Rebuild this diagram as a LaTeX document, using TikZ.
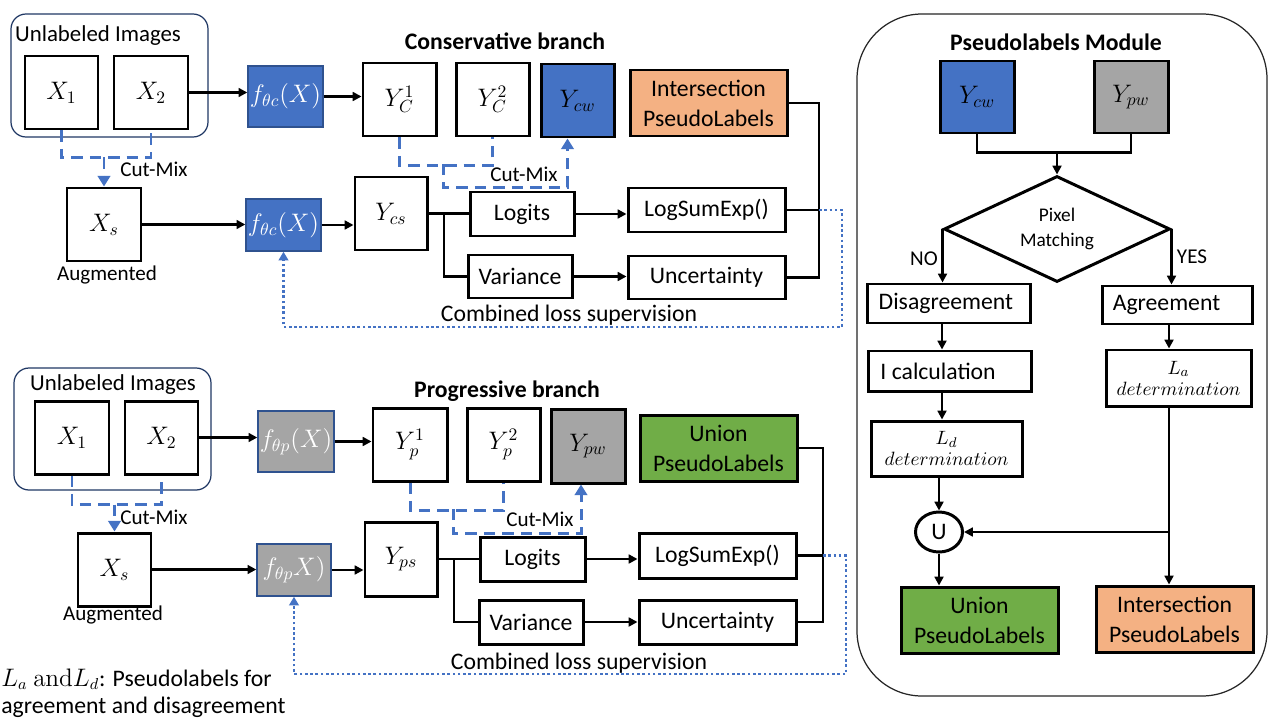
\documentclass[tikz,border=0pt]{standalone}
\usepackage[no-math]{fontspec}
\setmainfont{Carlito}
\usetikzlibrary{shapes.geometric,arrows.meta,calc}
\definecolor{myblue}{HTML}{4472C4}
\definecolor{myblueb}{HTML}{2F528F}
\definecolor{mygray}{HTML}{A5A5A5}
\definecolor{myorange}{HTML}{F4B183}
\definecolor{mygreen}{HTML}{70AD47}
\definecolor{navy}{HTML}{203864}
\begin{document}
\begin{tikzpicture}[x=0.02cm,y=-0.02cm,
  sz/.style 2 args={minimum width=#1*0.02cm, minimum height=#2*0.02cm},
  box/.style={draw=black, line width=1.7pt, inner sep=0pt, align=center, font=\fontsize{13.5pt}{16pt}\selectfont},
  bigbox/.style={box, font=\fontsize{13.5pt}{17pt}\selectfont},
  mbox/.style={box, font=\fontsize{14.5pt}{16pt}\selectfont},
  fblue/.style={draw=myblueb, line width=0.8pt, fill=myblue, text=white, inner sep=0pt, font=\fontsize{14pt}{16pt}\selectfont},
  fgray/.style={draw=myblueb, line width=0.8pt, fill=mygray, text=white, inner sep=0pt, font=\fontsize{14pt}{16pt}\selectfont},
  ibox/.style={draw=navy, line width=0.7pt, rounded corners=0.3cm},
  tsm/.style={inner sep=0pt, font=\fontsize{12pt}{14pt}\selectfont},
  tul/.style={inner sep=0pt, font=\fontsize{13pt}{15pt}\selectfont},
  tmd/.style={inner sep=0pt, font=\fontsize{13.5pt}{16pt}\selectfont},
  ttl/.style={inner sep=0pt, font=\bfseries\fontsize{13.5pt}{16pt}\selectfont},
  detbox/.style={box, font=\fontsize{11pt}{11pt}\selectfont},
  conn/.style={line width=1.3pt},
  arr/.style={conn, -{Triangle[length=5pt,width=5pt]}},
  cmx/.style={draw=myblue, line width=1.7pt, dash pattern=on 6.5pt off 4pt},
  cmxa/.style={cmx, -{Triangle[length=6pt,width=7pt]}},
  dotl/.style={draw=myblue, line width=1.5pt, dash pattern=on 1.5pt off 1.5pt, -{Triangle[length=5pt,width=5.5pt]}}
]
\useasboundingbox (0,0) rectangle (1280,720);
\fill[white] (0,0) rectangle (1280,720);

% ===== Conservative branch =====
\node[ibox, sz={197}{123}] (unl1) at (109.5,75.5) {};
\node[tul] (unlt1) at (98,36) {Unlabeled Images};
\node[mbox, sz={73}{73}] (X1a) at (61.5,92.5) {$X_1$};
\node[mbox, sz={74}{73}] (X2a) at (151,92.5) {$X_2$};
\node[fblue, sz={75}{61}] (fc1) at (285.5,96.5) {$f_{\theta c}(X)$};
\node[mbox, sz={73}{73}] (Yc1) at (399.5,99.5) {$Y_C^1$};
\node[mbox, sz={73}{73}] (Yc2) at (492.5,99.5) {$Y_C^2$};
\node[mbox, fill=myblue, sz={73}{73}] (Ycw) at (577.5,100.5) {$Y_{cw}$};
\node[bigbox, fill=myorange, sz={157}{66}] (Inter1) at (708.5,103) {Intersection\\PseudoLabels};
\node[ttl] (title1) at (505,41) {Conservative branch};
\node[mbox, sz={74}{73}] (Xs1) at (104,224.5) {$X_s$};
\node[tsm] (aug1) at (107,275) {Augmented};
\node[fblue, sz={75}{52}] (fc2) at (283.5,225) {$f_{\theta c}(X)$};
\node[mbox, sz={72}{73}] (Ycs) at (391,213.5) {$Y_{cs}$};
\node[box, sz={104}{44}] (Logits1) at (522,214) {Logits};
\node[box, sz={104}{43}] (Var1) at (520,276.5) {Variance};
\node[box, sz={157}{44}] (LSE1) at (706.5,210) {LogSumExp()};
\node[box, sz={157}{43}] (Unc1) at (706.5,277.5) {Uncertainty};
\node[tmd] (cls1) at (569,315) {Combined loss supervision};

\draw[arr] (X2a.east) -- (X2a.east -| fc1.west);
\draw[arr] (fc1.east) -- (fc1.east -| Yc1.west);
\draw[arr] (Xs1.east) -- (Xs1.east -| fc2.west);
\draw[arr] (fc2.east) -- (fc2.east -| Ycs.west);
\draw[conn] (Ycs.east) -- (Ycs.east -| Logits1.west);
\coordinate (b1) at (444,214);
\draw[conn] (b1) |- (Var1.west);
\draw[arr] (Logits1.east) -- (Logits1.east -| LSE1.west);
\draw[arr] (Var1.east) -- (Var1.east -| Unc1.west);
\coordinate (j1) at (819,210);
\draw[conn] (Inter1.east) -| (j1) |- (Unc1.east);
\draw[conn] (LSE1.east) -- (j1);
\coordinate (dc1) at (842,327);
\draw[dotl] (j1) -| (dc1) -| (fc2.south);

\coordinate (cmA) at ($(X1a.south)+(0,27)$);
\draw[cmx] (X1a.south) -- (cmA) -| (X2a.south);
\draw[cmxa] (Xs1.north |- cmA) -- (Xs1.north);
\node[tsm] (cml1) at (154,169) {Cut-Mix};
\draw[cmx] (Yc1.south) -- ++(0,28) -| (Yc2.south);
\coordinate (cmB) at (443,164);
\draw[cmxa] (cmB) |- ($(Ycw.south)+(-10,49)$) -- ($(Ycw.south)+(-10,0)$);
\node[tsm] (cml2) at (524,174) {Cut-Mix};

% ===== Progressive branch =====
\node[ibox, sz={197}{122}] (unl2) at (112.5,429) {};
\node[tul] (unlt2) at (113,385) {Unlabeled Images};
\node[mbox, sz={74}{73}] (X1b) at (72,437.5) {$X_1$};
\node[mbox, sz={73}{73}] (X2b) at (161.5,437.5) {$X_2$};
\node[fgray, sz={76}{61}] (fp1) at (296,441.5) {$f_{\theta p}(X)$};
\node[mbox, sz={74}{73}] (Yp1) at (410,444.5) {$Y_p^1$};
\node[mbox, sz={73}{73}] (Yp2) at (503.5,444.5) {$Y_p^2$};
\node[mbox, fill=mygray, sz={74}{74}] (Ypw) at (588,446) {$Y_{pw}$};
\node[bigbox, fill=mygreen, sz={157}{66}] (Union1) at (718.5,448) {Union\\PseudoLabels};
\node[ttl] (title2) at (507,391) {Progressive branch};
\node[mbox, sz={73}{73}] (Xs2) at (114.5,569.5) {$X_s$};
\node[tsm] (aug2) at (113,615) {Augmented};
\node[fgray, sz={74}{52}] (fp2) at (294,570) {$f_{\theta p}X)$};
\node[mbox, sz={72}{74}] (Yps) at (401,559) {$Y_{ps}$};
\node[box, sz={105}{44}] (Logits2) at (532.5,559) {Logits};
\node[box, sz={104}{44}] (Var2) at (531,622) {Variance};
\node[box, sz={157}{45}] (LSE2) at (717.5,555.5) {LogSumExp()};
\node[box, sz={157}{44}] (Unc2) at (717.5,622) {Uncertainty};
\node[tmd] (cls2) at (579,663) {Combined loss supervision};

\draw[arr] (X2b.east) -- (X2b.east -| fp1.west);
\draw[arr] (fp1.east) -- (fp1.east -| Yp1.west);
\draw[arr] (Xs2.east) -- (Xs2.east -| fp2.west);
\draw[arr] (fp2.east) -- (fp2.east -| Yps.west);
\draw[conn] (Yps.east) -- (Yps.east -| Logits2.west);
\coordinate (b2) at (454,559);
\draw[conn] (b2) |- (Var2.west);
\draw[arr] (Logits2.east) -- (Logits2.east -| LSE2.west);
\draw[arr] (Var2.east) -- (Var2.east -| Unc2.west);
\coordinate (j2) at (823,555.5);
\draw[conn] (Union1.east) -| (j2) |- (Unc2.east);
\draw[conn] (LSE2.east) -- (j2);
\coordinate (dc2) at (846,674);
\draw[dotl] (j2) -| (dc2) -| (fp2.south);

\coordinate (cmC) at ($(X1b.south)+(0,29)$);
\draw[cmx] (X1b.south) -- (cmC) -| (X2b.south);
\draw[cmxa] (Xs2.north |- cmC) -- (Xs2.north);
\node[tsm] (cml3) at (154,517) {Cut-Mix};
\draw[cmx] (Yp1.south) -- ++(0,28) -| (Yp2.south);
\coordinate (cmD) at (453,509);
\draw[cmxa] (cmD) |- ($(Ypw.south)+(-7,49)$) -- ($(Ypw.south)+(-7,0)$);
\node[tsm] (cml4) at (540,519) {Cut-Mix};

% legend
\node[tmd, anchor=base west] (leg1) at (1,686) {$L_a\ \mathrm{and}L_d$: Pseudolabels for};
\node[tmd, anchor=base west] (leg2) at (1,713) {agreement and disagreement};

% ===== Pseudolabels module =====
\node[draw=black!85, line width=0.7pt, rounded corners=1.3cm, sz={410}{682}] (pmod) at (1062,355) {};
\node[ttl] (title3) at (1056,42) {Pseudolabels Module};
\node[mbox, fill=myblue, sz={74}{72}] (Ycw2) at (977,97) {$Y_{cw}$};
\node[mbox, fill=mygray, sz={74}{72}] (Ypw2) at (1131,97) {$Y_{pw}$};
\node[draw=black, line width=1.7pt, diamond, aspect=2.13, minimum width=226*0.02cm, minimum height=106*0.02cm, inner sep=0pt, align=center, font=\fontsize{11pt}{14pt}\selectfont] (dia) at (1057,229) {Pixel\\Matching};
\node[box, sz={163}{39}] (Dis) at (948.5,303.5) {Disagreement\hspace*{3pt}};
\node[box, sz={150}{38}] (Agr) at (1177,305) {Agreement\hspace*{12pt}};
\node[box, sz={163}{40}] (Ical) at (949.5,371) {I calculation\hspace*{13pt}};
\node[detbox, sz={151}{55}] (Ld) at (946.5,448.5) {$L_d$\\[1pt]$determination$};
\node[detbox, sz={145}{56}] (La) at (1178.5,378) {$L_a$\\[1pt]$determination$};
\node[draw=black, line width=1.7pt, ellipse, minimum width=47*0.02cm, minimum height=40*0.02cm, inner sep=0pt, font=\fontsize{13.5pt}{15pt}\selectfont] (U) at (939,532) {U};
\node[bigbox, fill=mygreen, sz={157}{66}] (Union2) at (979.5,620) {Union\\PseudoLabels};
\node[bigbox, fill=myorange, sz={157}{66}] (Inter2) at (1174.5,619) {Intersection\\PseudoLabels};
\node[tsm] (nol) at (924,259) {NO};
\node[tsm] (yesl) at (1192,257) {YES};

\coordinate (mg) at ($(dia.north)+(0,-22)$);
\draw[conn] (Ycw2.south) |- (mg) -| (Ypw2.south);
\draw[arr] (mg) -- (dia.north);
\draw[arr] (dia.west) -- (dia.west |- Dis.north);
\draw[arr] (dia.east) -- (dia.east |- Agr.north);
\coordinate (lx) at (942,0);
\coordinate (vx) at (1169,0);
\draw[arr] (Dis.south -| lx) -- (Ical.north -| lx);
\draw[arr] (Ical.south -| lx) -- (Ld.north -| lx);
\draw[arr] (Ld.south -| U.north) -- (U.north);
\draw[arr] (U.south) -- (U.south |- Union2.north);
\draw[arr] (Agr.south -| vx) -- (La.north -| vx);
\draw[arr] (La.south -| vx) -- (Inter2.north -| vx);
\draw[arr] (U.east -| vx) -- (U.east);
\end{tikzpicture}
\end{document}
